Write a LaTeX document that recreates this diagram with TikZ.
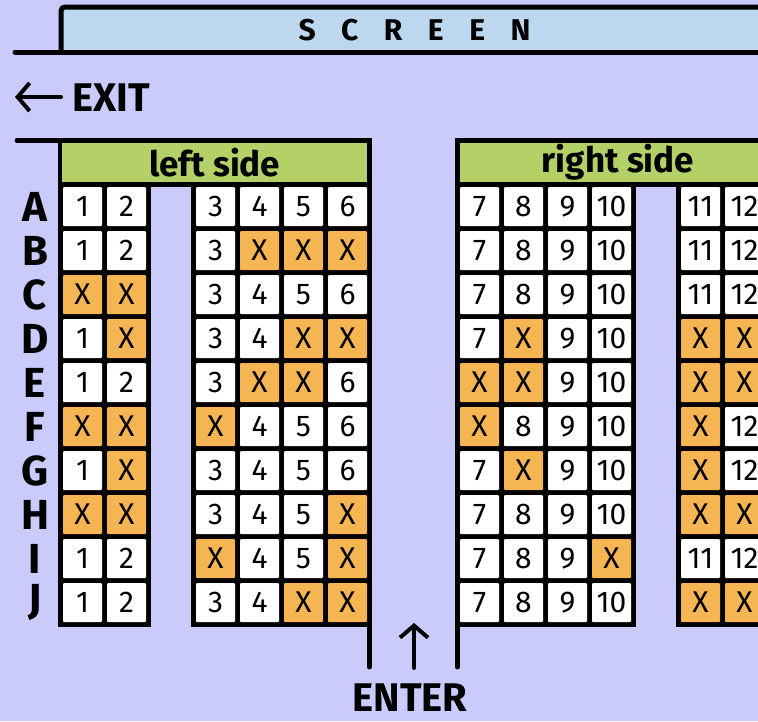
\documentclass[tikz,border=0pt]{standalone}
\usepackage{fontspec}
\setmainfont{Fira Sans}
\usetikzlibrary{arrows.meta}
\definecolor{hall}{RGB}{203,203,251}
\definecolor{screenblue}{RGB}{189,215,238}
\definecolor{sidegreen}{RGB}{179,209,102}
\definecolor{booked}{RGB}{245,181,83}

\begin{document}
\begin{tikzpicture}[x=1pt, y=-1pt,
  wall/.style={line width=5pt, line cap=round},
  seat/.style={fill=white, rounded corners=1pt, minimum size=39pt, inner sep=0pt,
               font=\fontsize{30}{30}\selectfont},
  taken/.style={seat, fill=booked},
  rowlbl/.style={font=\fontsize{42}{42}\selectfont\bfseries},
  sidehdr/.style={fill=sidegreen, minimum height=39.5pt, inner sep=0pt,
                  font=\fontsize{35}{35}\selectfont\bfseries},
  sign/.style={font=\fontsize{40}{40}\selectfont\bfseries, inner sep=0pt, text depth=0pt},
  ar/.style={-{Straight Barb[length=12pt,width=28pt]}, line width=4pt, line cap=round}]
\useasboundingbox (0,0) rectangle (758,721);
\fill[hall] (0,0) rectangle (758,721);
\clip (0,0) rectangle (758,721);

% screen
\fill[screenblue] (61,7) rectangle (800,52);
\draw[wall, rounded corners=4pt] (800,7) -- (61,7) -- (61,52);
\draw[wall] (15,52) -- (800,52);
\node[font=\fontsize{30}{30}\selectfont\bfseries\addfontfeatures{LetterSpace=85}] (screen) at (414.5,30) {SCREEN};

% exit
\node[sign, anchor=west] (exit) at (72,98) {EXIT};
\coordinate (exitTail) at (61,97);
\coordinate (exitTip) at (15,97);
\draw[ar] (exitTail) -- (exitTip);

% seat blocks
\draw[wall] (17,140.5) -- (60,140.5);
\fill (58,138) rectangle (372,187);
\fill (58,182) rectangle (151,627);
\fill (191,182) rectangle (372,627);
\fill (455,138) rectangle (800,187);
\fill (455,182) rectangle (636,627);
\fill (676,182) rectangle (800,627);
\node[sidehdr, minimum width=305pt] (lefthdr) at (214.75,162.5) {left side};
\node[sidehdr, minimum width=316pt] (righthdr) at (618,162.5) {right side};
\draw[wall] (369.5,625) -- (369.5,667);
\draw[wall] (457.5,625) -- (457.5,667);

% seats, 0 = taken
\def\colx{{63,107,196,240,284,328,460,504,548,592,681,725}}
\foreach \r/\s [count=\i from 0] in {%
  A/{1,2,3,4,5,6,7,8,9,10,11,12},
  B/{1,2,3,0,0,0,7,8,9,10,11,12},
  C/{0,0,3,4,5,6,7,8,9,10,11,12},
  D/{1,0,3,4,0,0,7,0,9,10,0,0},
  E/{1,2,3,0,0,6,0,0,9,10,0,0},
  F/{0,0,0,4,5,6,0,8,9,10,0,12},
  G/{1,0,3,4,5,6,7,0,9,10,0,12},
  H/{0,0,3,4,5,0,7,8,9,10,0,0},
  I/{1,2,0,4,5,0,7,8,9,0,11,12},
  J/{1,2,3,4,0,0,7,8,9,10,0,0}} {
  \pgfmathsetmacro\yy{206.5+44*\i}
  \node[rowlbl] (lbl\r) at (35,\yy) {\r};
  \foreach \v [count=\c] in \s {
    \pgfmathsetmacro\xx{\colx[\c-1]+19.5}
    \ifnum\v=0
      \node[taken] (\r\c) at (\xx,\yy) {X};
    \else
      \node[seat] (\r\c) at (\xx,\yy) {\v};
    \fi
  }
}

% enter
\node[sign, anchor=south] (enter) at (410,712) {ENTER};
\coordinate (inTail) at (414,668);
\coordinate (inTip) at (414,623);
\draw[ar] (inTail) -- (inTip);
\end{tikzpicture}
\end{document}
